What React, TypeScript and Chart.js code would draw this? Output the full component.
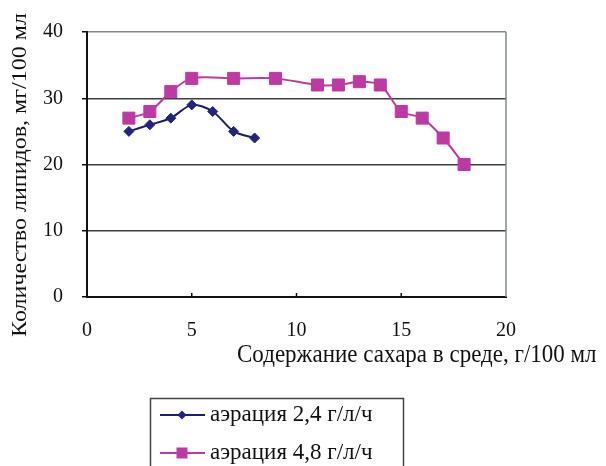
import React, { useEffect, useRef } from "react";
import { Chart, registerables } from "chart.js";

Chart.register(...registerables);

const xTitle = "Содержание сахара в среде, г/100 мл";
const yTitle = "Количество липидов, мг/100 мл";
const seriesNames = ["аэрация 2,4 г/л/ч", "аэрация 4,8 г/л/ч"];

const lowX = [2, 3, 4, 5, 6, 7, 8];
const lowY = [25, 26, 27, 29, 28, 25, 24];
const highX = [2, 3, 4, 5, 7, 9, 11, 12, 13, 14, 15, 16, 17, 18];
const highY = [27, 28, 31, 33, 33, 33, 32, 32, 32.5, 32, 28, 27, 24, 20];

const xMin = 0, xMax = 20, xStep = 5;
const yMin = 0, yMax = 40, yStep = 10;

const FONT = "'Liberation Serif', 'Times New Roman', serif";
const NAVY = "#1c1c6e";
const NAVY_PT = "#24247f";
const MAGENTA = "#bd3aa4";
const BORDER_GRAY = "#7f8b8b";

const decor = {
  id: "decor",
  beforeDatasetsDraw(chart: any) {
    const { ctx, chartArea: a, scales } = chart;
    ctx.save();
    ctx.strokeStyle = BORDER_GRAY;
    ctx.lineWidth = 1.5;
    ctx.beginPath();
    ctx.moveTo(a.right, a.top);
    ctx.lineTo(a.right, a.bottom);
    ctx.stroke();
    ctx.strokeStyle = "#111";
    ctx.lineWidth = 1.5;
    for (let v = xMin + xStep; v < xMax; v += xStep) {
      const px = scales.x.getPixelForValue(v);
      ctx.beginPath();
      ctx.moveTo(px, a.bottom);
      ctx.lineTo(px, a.bottom - 4);
      ctx.stroke();
    }
    ctx.restore();
  },
  afterDraw(chart: any) {
    const { ctx } = chart;
    ctx.save();
    ctx.fillStyle = "#111";
    // y title
    ctx.font = `20px ${FONT}`;
    ctx.textAlign = "center";
    ctx.textBaseline = "middle";
    ctx.save();
    ctx.translate(21, 175);
    ctx.rotate(-Math.PI / 2);
    ctx.scale(1.2, 1);
    ctx.fillText(yTitle, 0, 0);
    ctx.restore();
    // x title
    ctx.save();
    ctx.font = `23px ${FONT}`;
    ctx.textAlign = "left";
    ctx.translate(237, 355);
    ctx.scale(1, 1.12);
    ctx.fillText(xTitle, 0, 0);
    ctx.restore();
    // legend
    ctx.strokeStyle = "#444";
    ctx.lineWidth = 1.5;
    ctx.strokeRect(150.5, 398.5, 253, 90);
    const ds = chart.data.datasets;
    ds.forEach((d: any, i: number) => {
      const y = 415 + i * 38;
      ctx.strokeStyle = d.borderColor;
      ctx.lineWidth = 2;
      ctx.beginPath();
      ctx.moveTo(160, y);
      ctx.lineTo(205, y);
      ctx.stroke();
      ctx.fillStyle = d.pointBackgroundColor;
      const cx = 182;
      ctx.beginPath();
      if (d.pointStyle === "rectRot") {
        const r = 4.5;
        ctx.moveTo(cx, y - r);
        ctx.lineTo(cx + r, y);
        ctx.lineTo(cx, y + r);
        ctx.lineTo(cx - r, y);
        ctx.closePath();
      } else {
        ctx.rect(cx - 5.5, y - 5.5, 11, 11);
      }
      ctx.fill();
      ctx.fillStyle = "#111";
      ctx.font = `23px ${FONT}`;
      ctx.textAlign = "left";
      ctx.textBaseline = "middle";
      ctx.fillText(d.label, 210, y);
    });
    ctx.restore();
  },
};

export default function App() {
  const ref = useRef<HTMLCanvasElement>(null);
  useEffect(() => {
    if (!ref.current) return;
    const chart = new Chart(ref.current, {
      type: "line",
      data: {
        datasets: [
          {
            label: seriesNames[0],
            data: lowX.map((x, i) => ({ x, y: lowY[i] })),
            borderColor: NAVY,
            borderWidth: 2,
            pointStyle: "rectRot",
            pointRadius: 5,
            pointBackgroundColor: NAVY_PT,
            pointBorderColor: NAVY_PT,
            pointBorderWidth: 1,
            tension: 0.3,
          },
          {
            label: seriesNames[1],
            data: highX.map((x, i) => ({ x, y: highY[i] })),
            borderColor: MAGENTA,
            borderWidth: 2,
            pointStyle: "rect",
            pointRadius: 8.5,
            pointBackgroundColor: MAGENTA,
            pointBorderColor: MAGENTA,
            pointBorderWidth: 1,
            tension: 0.3,
          },
        ],
      },
      options: {
        animation: false,
        responsive: false,
        devicePixelRatio: 1,
        layout: { padding: { left: 0, top: 32, right: 100, bottom: 0 } },
        plugins: { legend: { display: false }, tooltip: { enabled: false } },
        scales: {
          x: {
            type: "linear",
            min: xMin,
            max: xMax,
            afterFit: (s: any) => { s.height = 169; },
            ticks: { stepSize: xStep, color: "#111", font: { family: FONT, size: 20 }, padding: 22, maxRotation: 0 },
            grid: { display: false, drawTicks: false },
            border: { display: true, color: "#111", width: 2 },
          },
          y: {
            min: yMin,
            max: yMax,
            afterFit: (s: any) => { s.width = 87; },
            ticks: { stepSize: yStep, color: "#111", font: { family: FONT, size: 20 }, padding: 19 },
            grid: {
              color: (c: any) => (c.tick && c.tick.value === yMax ? BORDER_GRAY : "#3d3d3d"),
              lineWidth: 1.5,
              drawTicks: true,
              tickLength: 5,
              tickColor: "#111",
            },
            border: { display: true, color: "#111", width: 2 },
          },
        },
      },
      plugins: [decor],
    });
    return () => chart.destroy();
  }, []);
  return (
    <div style={{ position: "absolute", left: 0, top: 0, width: 606, height: 466, background: "#fff" }}>
      <canvas ref={ref} width={606} height={466} style={{ display: "block" }} />
    </div>
  );
}
